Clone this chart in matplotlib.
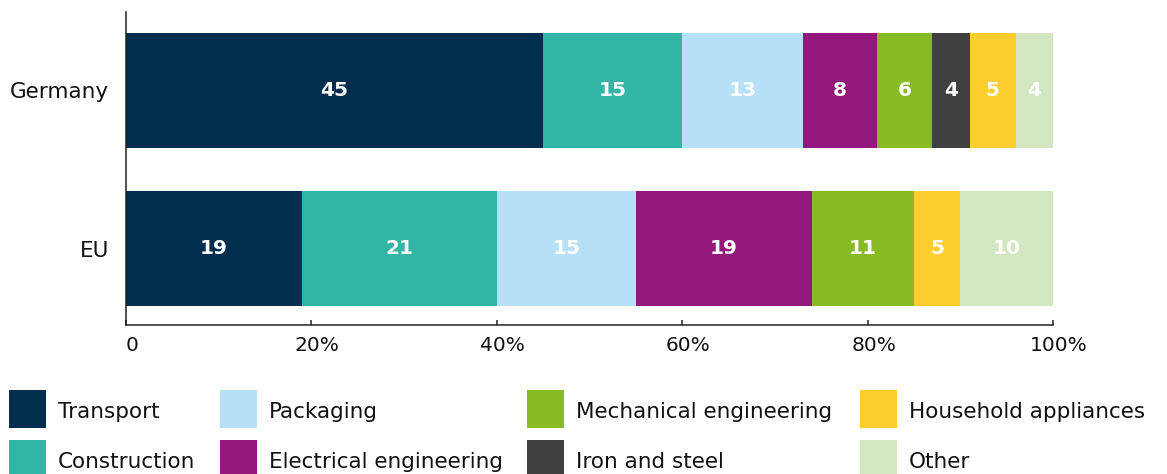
import numpy as np
import matplotlib.pyplot as plt
from matplotlib.patches import Rectangle
from matplotlib.transforms import ScaledTranslation

# shares in percent
countries = ['Germany', 'EU']
categories = ['Transport', 'Construction', 'Packaging', 'Electrical engineering',
              'Mechanical engineering', 'Iron and steel', 'Household appliances', 'Other']
germany = [45, 15, 13, 8, 6, 4, 5, 4]
eu = [19, 21, 15, 19, 11, 0, 5, 10]
colors = ['#012d4f', '#33b5a5', '#b5e0f7', '#93177d',
          '#86bb23', '#404040', '#fece2f', '#d3e6c2']
xticks = [0, 20, 40, 60, 80, 100]
xticklabels = ['0', '20%', '40%', '60%', '80%', '100%']

W, H = 1167, 474
fig = plt.figure(figsize=(W / 100, H / 100), dpi=100)
ax = fig.add_axes([126 / W, 1 - 325 / H, (1053 - 126) / W, (325 - 12) / H])

data = np.array([germany, eu])
ypos = np.array([1, 0])
left = np.zeros(len(countries))
for j, cat in enumerate(categories):
    vals = data[:, j]
    ax.barh(ypos, vals, left=left, height=0.725, color=colors[j], linewidth=0)
    for k in range(len(countries)):
        if vals[k] > 0:
            ax.text(left[k] + vals[k] / 2, ypos[k], str(vals[k]), color='white',
                    fontsize=14.5, fontweight='bold', ha='center', va='center')
    left += vals

ax.set_xlim(0, 100)
ax.set_ylim(-0.48, 1.495)
ax.set_yticks(ypos)
ax.set_yticklabels(countries, fontsize=15.5, color='#111111')
ax.tick_params(axis='y', length=0, pad=12)
ax.set_xticks(xticks)
ax.set_xticklabels(xticklabels, fontsize=14.5, color='#111111')
ax.tick_params(axis='x', direction='in', length=3.6, width=1.1, color='#222222', pad=8)
# labels sit a little right of their ticks in the original
shift = ScaledTranslation(6 / 100, 0, fig.dpi_scale_trans)
for lab in ax.get_xticklabels():
    lab.set_transform(lab.get_transform() + shift)
for s in ['top', 'right']:
    ax.spines[s].set_visible(False)
for s in ['left', 'bottom']:
    ax.spines[s].set_linewidth(1.1)
    ax.spines[s].set_color('#222222')

# legend, 4 columns x 2 rows
col_x = [9, 220, 527, 860]
row_top = [390, 440]
for i, cat in enumerate(categories):
    px = col_x[i // 2]
    py = row_top[i % 2]
    fig.add_artist(Rectangle((px / W, 1 - (py + 38) / H), 37 / W, 38 / H,
                             transform=fig.transFigure, color=colors[i], linewidth=0))
    fig.text((px + 49) / W, 1 - (py + 28) / H, cat, fontsize=15.5, color='#111111',
             ha='left', va='baseline')

plt.savefig('out.png', dpi=100)
